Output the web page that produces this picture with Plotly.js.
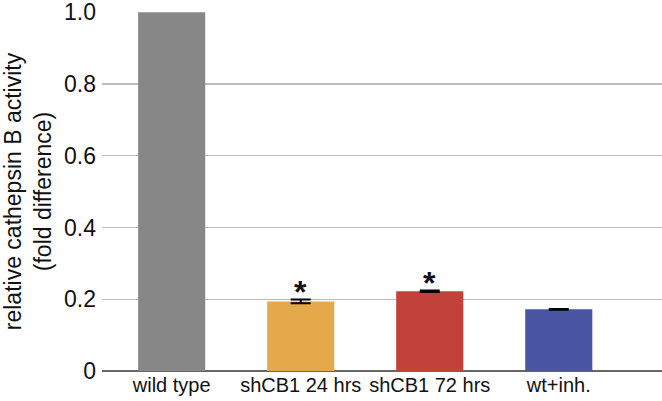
<!DOCTYPE html>
<html>
<head>
<meta charset="utf-8">
<script src="https://cdn.plot.ly/plotly-3.0.1.min.js"></script>
<style>
  html, body { margin: 0; padding: 0; background: #fff; }
  #chart { width: 662px; height: 401px; }
</style>
</head>
<body>
<div id="chart"></div>
<script>
// values
const groups = ["wild type", "shCB1 24 hrs", "shCB1 72 hrs", "wt+inh."];
const activity = [1.0, 0.194, 0.222, 0.172];
const errors = [0, 0.005, 0.002, 0.001];
const barColors = ["#878787", "#e3a94b", "#c2423b", "#4a55a2"];
const starred = [false, true, true, false];

// error bars only where the figure shows them (not on wild type)
const errGroups = groups.slice(1);
const errValues = activity.slice(1);
const errSizes = errors.slice(1);

const bars = {
  type: "bar",
  x: groups,
  y: activity,
  width: 0.52,
  marker: { color: barColors, line: { width: 0 } },
  hoverinfo: "x+y"
};

const errTrace = {
  type: "scatter",
  mode: "markers",
  x: errGroups,
  y: errValues,
  marker: { size: 1, opacity: 0 },
  error_y: {
    type: "data",
    array: errSizes,
    visible: true,
    color: "#000",
    thickness: 2,
    width: 10
  },
  hoverinfo: "skip"
};

const stars = [];
for (let i = 0; i < groups.length; i++) {
  if (!starred[i]) continue;
  stars.push({
    x: groups[i],
    y: activity[i] + errors[i],
    yref: "y",
    xref: "x",
    text: "<b>*</b>",
    showarrow: false,
    yanchor: "bottom",
    yshift: -12,
    font: { size: 32, color: "#111", family: "Liberation Sans, Arial, sans-serif" }
  });
}

const layout = {
  width: 662,
  height: 401,
  margin: { l: 102, r: 0, t: 12, b: 30 },
  paper_bgcolor: "#fff",
  plot_bgcolor: "#fff",
  showlegend: false,
  font: { family: "Liberation Sans, Arial, sans-serif", size: 20, color: "#111" },
  xaxis: {
    type: "category",
    range: [-0.54, 3.8],
    showgrid: false,
    showline: false,
    ticks: "",
    tickangle: 0,
    tickfont: { size: 20 },
    fixedrange: true
  },
  yaxis: {
    range: [0, 1.0005],
    tickvals: [0, 0.2, 0.4, 0.6, 0.8, 1.0],
    ticktext: ["0", "0.2", "0.4", "0.6", "0.8", "1.0"],
    showgrid: true,
    gridcolor: "#bdbdbd",
    gridwidth: 1.2,
    zeroline: true,
    zerolinecolor: "#666",
    zerolinewidth: 2,
    showline: false,
    ticks: "",
    ticklabelstandoff: 5,
    ticklabeloverflow: "allow",
    tickfont: { size: 23 },
    title: {
      text: "relative cathepsin B activity<br>(fold difference)",
      font: { size: 23 },
      standoff: 6
    },
    fixedrange: true
  },
  annotations: stars
};

Plotly.newPlot("chart", [bars, errTrace], layout, { displayModeBar: false, staticPlot: true });
</script>
</body>
</html>
